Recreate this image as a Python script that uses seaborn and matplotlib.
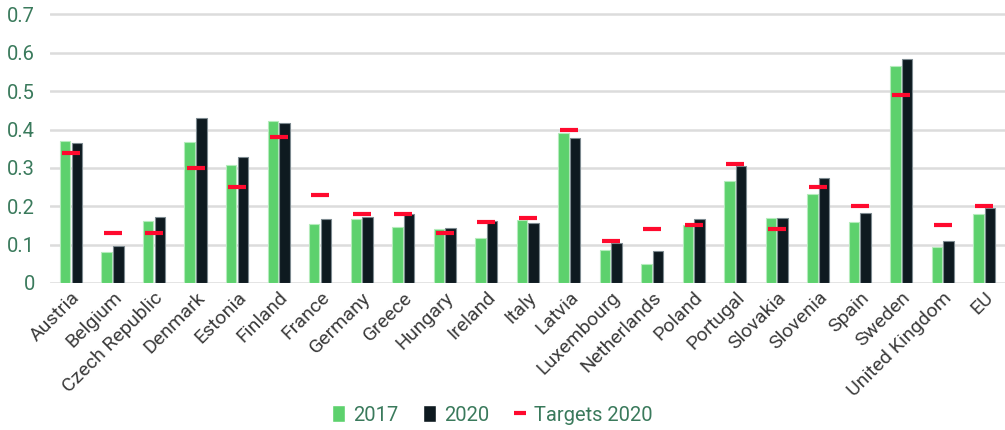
import numpy as np
import pandas as pd
import seaborn as sns
import matplotlib.pyplot as plt
from matplotlib.patches import Patch
from matplotlib.lines import Line2D

countries = ["Austria", "Belgium", "Czech Republic", "Denmark", "Estonia", "Finland",
             "France", "Germany", "Greece", "Hungary", "Ireland", "Italy", "Latvia",
             "Luxembourg", "Netherlands", "Poland", "Portugal", "Slovakia", "Slovenia",
             "Spain", "Sweden", "United Kingdom", "EU"]
values_2017 = [0.369, 0.081, 0.162, 0.367, 0.308, 0.421, 0.154, 0.167, 0.147, 0.140, 0.116,
               0.165, 0.392, 0.086, 0.049, 0.150, 0.267, 0.169, 0.231, 0.160, 0.566, 0.094, 0.179]
values_2020 = [0.366, 0.097, 0.171, 0.431, 0.328, 0.416, 0.168, 0.171, 0.180, 0.143, 0.161,
               0.156, 0.379, 0.105, 0.082, 0.166, 0.305, 0.169, 0.274, 0.182, 0.585, 0.110, 0.196]
targets_2020 = [0.34, 0.13, 0.13, 0.30, 0.25, 0.38, 0.23, 0.18, 0.18, 0.13, 0.16,
                0.17, 0.40, 0.11, 0.14, 0.15, 0.31, 0.14, 0.25, 0.20, 0.49, 0.15, 0.20]
years = ["2017", "2020"]

GREEN = "#5dd16d"
DARK = "#0e1a20"
RED = "#ff0a2e"
TEXT_GREEN = "#3a7a5c"

df = pd.DataFrame({
    "country": countries * 2,
    "year": [years[0]] * len(countries) + [years[1]] * len(countries),
    "value": values_2017 + values_2020,
})

sns.set_style("white")
plt.rcParams["font.family"] = ["Roboto", "DejaVu Sans"]

fig = plt.figure(figsize=(10.05, 4.3), dpi=100)
ax = fig.add_axes([0.05, 0.342, 0.95, 0.627])

sns.barplot(data=df, x="country", y="value", hue="year", order=countries,
            hue_order=years, palette=[GREEN, DARK], saturation=1, width=0.56, gap=0.1,
            legend=False, ax=ax, zorder=3)
for bar, ec in zip(ax.patches, ["#b5ecbc"] * len(countries) + ["#7d8a90"] * len(countries)):
    bar.set_edgecolor(ec)
    bar.set_linewidth(0.8)

sns.scatterplot(x=countries, y=targets_2020, marker="_", s=150, color=RED,
                linewidth=3, ax=ax, zorder=4, legend=False)

ax.set_ylim(0, 0.703)
ax.set_xlim(-0.5, len(countries) - 0.5)
ax.set_yticks(np.arange(0, 0.71, 0.1))
ax.set_yticklabels(["0", "0.1", "0.2", "0.3", "0.4", "0.5", "0.6", "0.7"])
ax.yaxis.grid(True, color="#dcdcdc", linewidth=1.8, zorder=0)
ax.set_axisbelow(True)
for s in ax.spines.values():
    s.set_visible(False)
ax.set_xlabel("")
ax.set_ylabel("")
ax.tick_params(axis="y", labelsize=14.5, labelcolor=TEXT_GREEN, length=0, pad=11)
ax.tick_params(axis="x", labelsize=14, labelcolor="#3a3a3a", length=0, pad=4)
plt.setp(ax.get_xticklabels(), rotation=45, ha="right", rotation_mode="anchor")

handles = [Patch(facecolor=GREEN, label="2017"),
           Patch(facecolor=DARK, label="2020"),
           Line2D([], [], color=RED, marker="_", linestyle="", markersize=9,
                  markeredgewidth=3, label="Targets 2020")]
leg = fig.legend(handles=handles, loc="center", bbox_to_anchor=(0.49, 0.035), ncol=3,
                 frameon=False, fontsize=14.5, handlelength=0.65, handleheight=0.9,
                 handletextpad=0.4, columnspacing=1.2)
for t in leg.get_texts():
    t.set_color(TEXT_GREEN)

fig.savefig("out.png", dpi=100)
